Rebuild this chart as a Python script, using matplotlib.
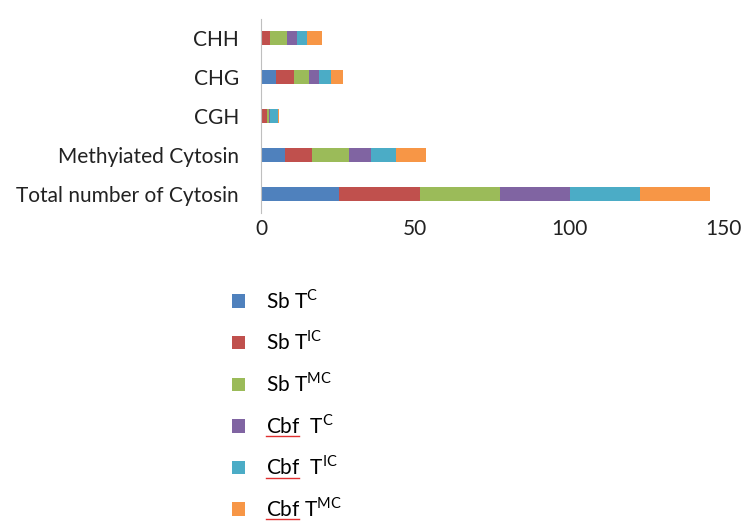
import numpy as np
import matplotlib.pyplot as plt
from matplotlib.lines import Line2D

plt.rcParams['font.family'] = ['Lato', 'DejaVu Sans']
plt.rcParams['mathtext.fontset'] = 'custom'
plt.rcParams['mathtext.rm'] = 'Lato'

# categorias, de abajo hacia arriba
categories = ['Total number of Cytosin', 'Methyiated Cytosin', 'CGH', 'CHG', 'CHH']

sb_tc = [25.4, 7.8, 0.1, 4.9, 0.0]
sb_tic = [26.0, 8.8, 1.9, 5.8, 3.0]
sb_tmc = [26.0, 12.0, 0.5, 4.9, 5.4]
cbf_tc = [22.7, 6.9, 0.4, 3.3, 3.4]
cbf_tic = [22.6, 8.1, 2.5, 3.9, 3.0]
cbf_tmc = [22.8, 9.8, 0.4, 3.9, 4.9]

series = [sb_tc, sb_tic, sb_tmc, cbf_tc, cbf_tic, cbf_tmc]
labels = [r'Sb T$^{\mathrm{C}}$', r'Sb T$^{\mathrm{IC}}$', r'Sb T$^{\mathrm{MC}}$',
          r'Cbf  T$^{\mathrm{C}}$', r'Cbf  T$^{\mathrm{IC}}$', r'Cbf T$^{\mathrm{MC}}$']
colors = ['#4F81BD', '#C0504D', '#9BBB59', '#8064A2', '#4BACC6', '#F79646']

fs = 15

fig = plt.figure(figsize=(7.55, 5.32), dpi=100)
ax = fig.add_axes([0.3457, 0.5987, 0.613, 0.3665])

y = np.arange(len(categories))
left = np.zeros(len(categories))
for vals, lab, col in zip(series, labels, colors):
    ax.barh(y, vals, left=left, height=0.37, color=col, label=lab)
    left += np.array(vals)

ax.set_xlim(0, 150)
ax.set_ylim(-0.5, len(categories) - 0.5)
ax.set_xticks([0, 50, 100, 150])
ax.set_yticks(y)
ax.set_yticklabels(categories)
ax.tick_params(length=0, labelsize=fs, colors='#222222')
ax.tick_params(axis='y', pad=16)
ax.tick_params(axis='x', pad=4)
for s in ['top', 'right', 'bottom']:
    ax.spines[s].set_visible(False)
ax.spines['left'].set_color('#BFBFBF')

leg = fig.legend(loc='upper left', bbox_to_anchor=(0.283, 0.493), frameon=False,
                 fontsize=fs, handlelength=0.62, handleheight=0.62,
                 handletextpad=1.0, labelspacing=0.85)

# subrayado rojo de "Cbf" (corrector ortografico)
fig.canvas.draw()
r = fig.canvas.get_renderer()
for t in leg.get_texts():
    if t.get_text().startswith('Cbf'):
        bb = t.get_window_extent(r)
        tmp = fig.text(0, 0, 'Cbf', fontsize=fs)
        w = tmp.get_window_extent(r).width
        tmp.remove()
        yy = bb.y0 + 1
        fig.add_artist(Line2D([bb.x0 / 755, (bb.x0 + w) / 755], [yy / 532, yy / 532],
                              color='#E03030', lw=1.0))

fig.savefig('out.png', dpi=100)
